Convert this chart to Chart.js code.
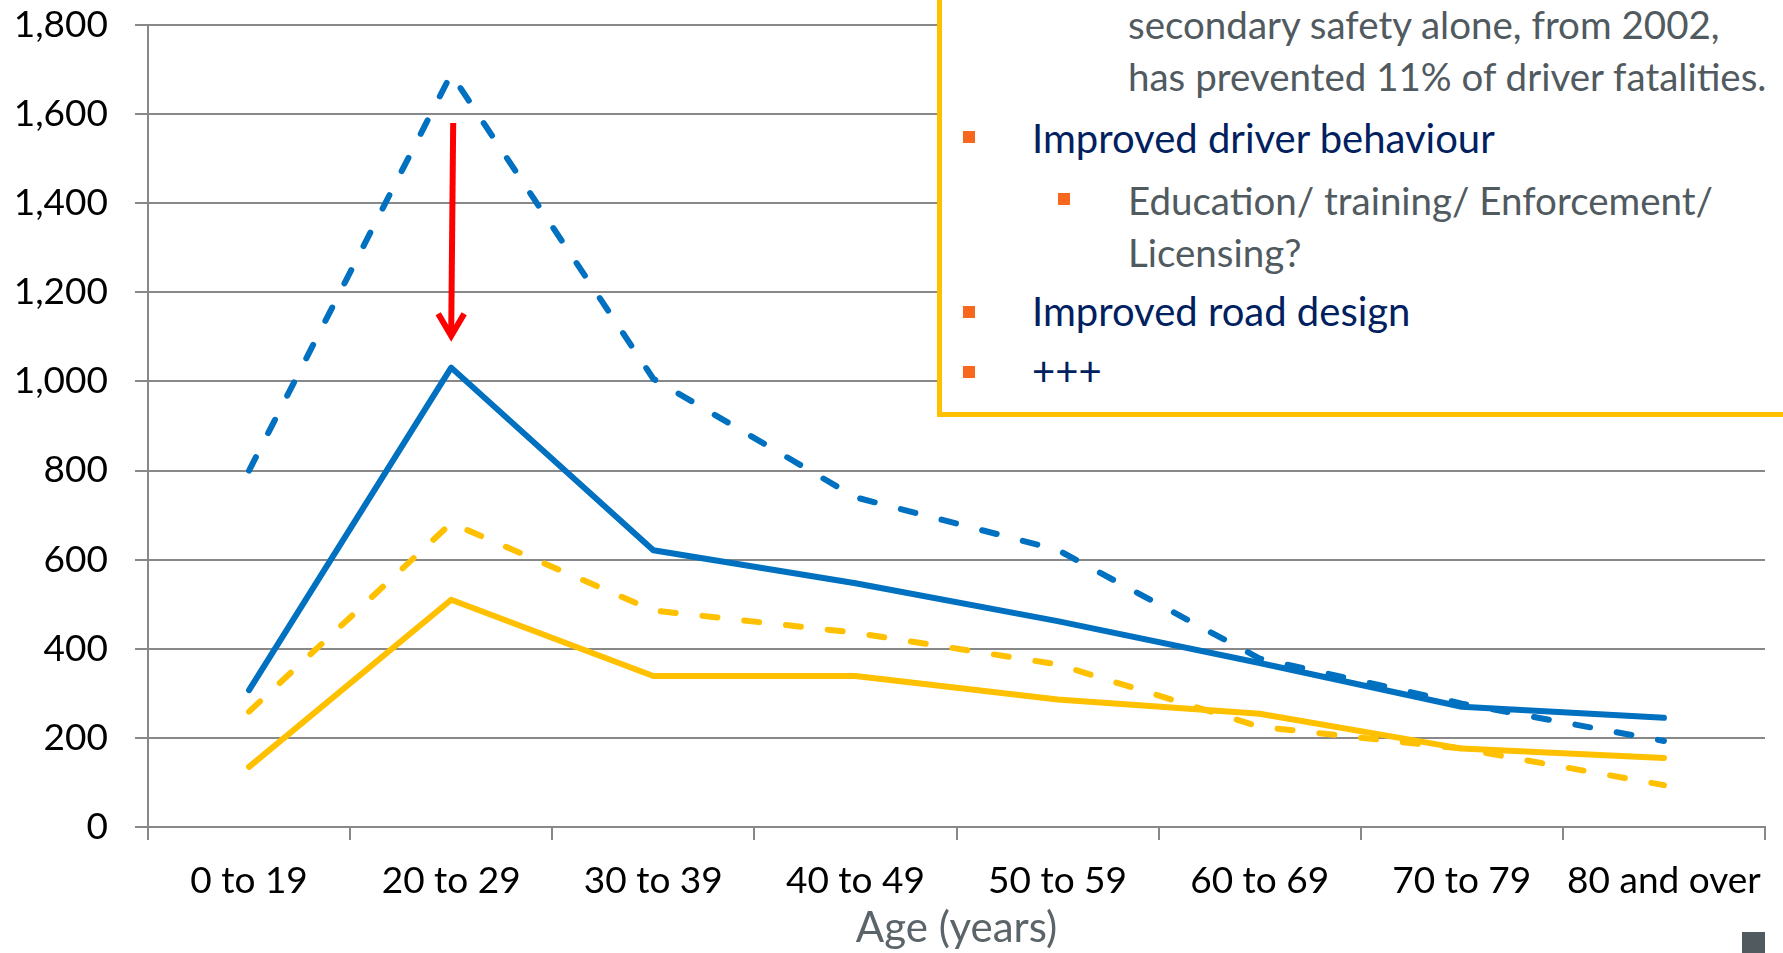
<!DOCTYPE html>
<html>
<head>
<meta charset="utf-8">
<script src="https://cdn.jsdelivr.net/npm/chart.js@4.4.1/dist/chart.umd.min.js"></script>
<style>
  html, body { margin:0; padding:0; background:#fff; overflow:hidden; }
  #wrap { position:relative; width:1783px; height:953px; overflow:hidden; font-family:Lato, 'Open Sans', sans-serif; }
  #wrap canvas { position:absolute; left:0; top:0; }
  .box { position:absolute; left:937px; top:-20px; width:900px; height:437px; border:5px solid #FFC000; background:#fff; box-sizing:border-box; }
  .t { position:absolute; line-height:1.2; white-space:nowrap; }
  .lvl1 { color:#002060; left:1032px; font-size:40px; }
  .lvl2 { color:#505A5F; left:1128px; font-size:38.5px; }
  .sq { position:absolute; width:12px; height:12px; background:#F7671E; }
  .corner { position:absolute; left:1742px; top:932px; width:23px; height:21px; background:#505A5F; }
</style>
</head>
<body>
<div id="wrap">
  <canvas id="c" width="1783" height="953"></canvas>
  <div class="box"></div>
  <div class="t lvl2" style="top:1px">secondary safety alone, from 2002,</div>
  <div class="t lvl2" style="top:53px">has prevented 11% of driver fatalities.</div>
  <div class="sq" style="left:963px;top:131px"></div>
  <div class="t lvl1" style="top:114px">Improved driver behaviour</div>
  <div class="sq" style="left:1058px;top:193px"></div>
  <div class="t lvl2" style="top:177px">Education/ training/ Enforcement/</div>
  <div class="t lvl2" style="top:229px">Licensing?</div>
  <div class="sq" style="left:963px;top:306px"></div>
  <div class="t lvl1" style="top:287px">Improved road design</div>
  <div class="sq" style="left:963px;top:366px"></div>
  <div class="t lvl1" style="top:347px">+++</div>
  <div class="corner"></div>
</div>
<script>
const ageGroups = ['0 to 19','20 to 29','30 to 39','40 to 49','50 to 59','60 to 69','70 to 79','80 and over'];

// driver fatalities by age
const blueDashed   = [800, 1690, 1006, 740, 622, 378, 277, 193];
const blueSolid    = [307, 1031, 621, 547, 462, 368, 270, 245];
const yellowDashed = [259, 682, 486, 436, 365, 225, 176, 94];
const yellowSolid  = [135, 510, 339, 339, 286, 254, 176, 155];

const yTicks = { min: 0, max: 1800, step: 200 };

// red arrow: at '20 to 29', from 1580 down to 1098
const arrowAt = 1;
const arrowFrom = 1580;
const arrowTo = 1098;

const BLUE = '#0070C0', YELLOW = '#FFC000', GRID = '#888888';

const arrowPlugin = {
  id: 'arrow',
  afterDatasetsDraw(chart) {
    const { ctx, scales: { x, y } } = chart;
    const px = x.getPixelForValue(arrowAt);
    const y0 = y.getPixelForValue(arrowFrom);
    const y1 = y.getPixelForValue(arrowTo);
    ctx.save();
    ctx.strokeStyle = '#FF0000';
    ctx.lineWidth = 6;
    ctx.beginPath();
    ctx.moveTo(px + 2, y0);
    ctx.lineTo(px, y1 - 4);
    ctx.stroke();
    ctx.lineJoin = 'miter';
    ctx.beginPath();
    ctx.moveTo(px - 13, y1 - 24);
    ctx.lineTo(px, y1 - 2);
    ctx.lineTo(px + 13, y1 - 24);
    ctx.stroke();
    ctx.restore();
  }
};

const line = (data, color, dashed) => ({
  data, borderColor: color, backgroundColor: color, borderWidth: 6,
  borderDash: dashed ? [15, 27] : [], borderCapStyle: 'round', borderJoinStyle: 'round',
  pointRadius: 0, tension: 0, fill: false
});

new Chart(document.getElementById('c'), {
  type: 'line',
  data: {
    labels: ageGroups,
    datasets: [
      line(blueDashed, BLUE, true),
      line(yellowDashed, YELLOW, true),
      line(yellowSolid, YELLOW, false),
      line(blueSolid, BLUE, false),
    ]
  },
  plugins: [arrowPlugin],
  options: {
    responsive: false, animation: false,
    layout: { padding: { top: 25, right: 18, bottom: 0, left: 0 } },
    plugins: { legend: { display: false }, tooltip: { enabled: false } },
    scales: {
      x: {
        offset: true,
        grid: { offset: true, drawOnChartArea: false, color: GRID, lineWidth: 2, tickLength: 13 },
        border: { color: GRID, width: 2 },
        ticks: { color: '#000', font: { family: 'Lato', size: 37 }, padding: 19, maxRotation: 0, autoSkip: false },
        title: { display: true, text: 'Age (years)', color: '#5A6469', font: { family: 'Lato', size: 42, lineHeight: 1.15 }, padding: 0 },
        afterFit(s) { s.height = 126; s.paddingLeft = 0; s.paddingRight = 0; }
      },
      y: {
        min: yTicks.min, max: yTicks.max,
        grid: { color: GRID, lineWidth: 2, tickLength: 13 },
        border: { color: GRID, width: 2 },
        ticks: { stepSize: yTicks.step, color: '#000', font: { family: 'Lato', size: 37 }, padding: 27,
                 callback: v => v.toLocaleString('en-US') },
        afterFit(s) { s.width = 148; s.paddingTop = 0; s.paddingBottom = 0; }
      }
    }
  }
});
</script>
</body>
</html>
